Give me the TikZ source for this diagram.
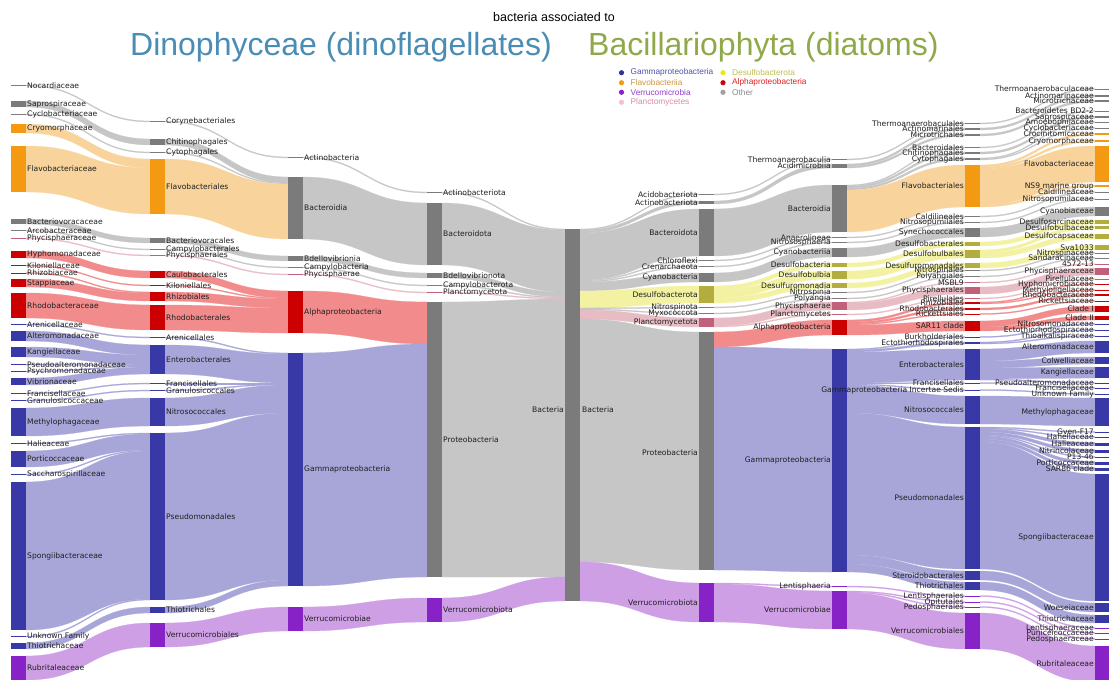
\documentclass[tikz,border=0pt]{standalone}
\usepackage{fontspec}
\setmainfont{DejaVu Sans}
\newfontfamily\headfont{Liberation Sans}
\usepackage{tikz}

\definecolor{othbar}{HTML}{7B7B7B}
\definecolor{othlnk}{HTML}{C6C6C6}
\definecolor{flvbar}{HTML}{F39A12}
\definecolor{flvlnk}{HTML}{F8D49C}
\definecolor{alpbar}{HTML}{CC0000}
\definecolor{alplnk}{HTML}{F28C8C}
\definecolor{gambar}{HTML}{3838A6}
\definecolor{gamlnk}{HTML}{A8A6D9}
\definecolor{verbar}{HTML}{8722C6}
\definecolor{verlnk}{HTML}{CF9FE6}
\definecolor{plabar}{HTML}{C0607A}
\definecolor{plalnk}{HTML}{E8BCC4}
\definecolor{desbar}{HTML}{B3AD3F}
\definecolor{deslnk}{HTML}{F2F2A2}
\definecolor{labtxt}{HTML}{1E1E1E}
\definecolor{dinoblue}{HTML}{4A8DB4}
\definecolor{diatgreen}{HTML}{8FA94A}
% legend dots and texts
\definecolor{gamdot}{HTML}{33339A}
\definecolor{gamtxt}{HTML}{5050AA}
\definecolor{flvtxt}{HTML}{CD963C}
\definecolor{vertxt}{HTML}{963CCD}
\definecolor{pladot}{HTML}{F8C0CC}
\definecolor{platxt}{HTML}{D78CA5}
\definecolor{desdot}{HTML}{E8E81E}
\definecolor{destxt}{HTML}{BEBE50}
\definecolor{alptxt}{HTML}{E11E1E}
\definecolor{othdot}{HTML}{A0A0A0}
\definecolor{othtxt}{HTML}{888888}

% band between two columns: [colour](x1:top1:bottom1)(x2:top2:bottom2)
\def\lnk[#1](#2:#3:#4)(#5:#6:#7){\filldraw[#1,line width=0.25pt] (#2,#3) .. controls ({(#2+#5)/2},#3) and ({(#2+#5)/2},#6) .. (#5,#6) -- (#5,#7) .. controls ({(#2+#5)/2},#7) and ({(#2+#5)/2},#4) .. (#2,#4) -- cycle;}
% bar with its label to the right / to the left
\def\taxl[#1](#2:#3:#4)#5{\fill[#1] (#2,#3) rectangle ({#2+15},#4); \node[tlab,anchor=west] at ({#2+16},{(#3+#4)/2}) {#5};}
\def\taxr[#1](#2:#3:#4)#5{\fill[#1] (#2,#3) rectangle ({#2+15},#4); \node[tlab,anchor=east] at ({#2-1},{(#3+#4)/2}) {#5};}

\begin{document}
\begin{tikzpicture}[x=1pt,y=-1pt,
  tlab/.style={font=\fontsize{7.6}{8}\selectfont,text=labtxt,inner sep=0pt},
  leg/.style={font=\headfont\fontsize{8.3}{9}\selectfont,inner sep=0pt,anchor=west}]
			%%%%% START %%%%%
			\useasboundingbox (0,0) rectangle (1109,680);
			
			% families -> orders (dinoflagellates)
			\lnk[othlnk](26:85:86)(150:121:122)
			\lnk[othlnk](26:101:107)(150:139:145)
			\lnk[othlnk](26:114:115)(150:152:153)
			\lnk[flvlnk](26:124:133)(150:159:168)
			\lnk[flvlnk](26:146:192)(150:168:214)
			\lnk[othlnk](26:219:224)(150:238:243)
			\lnk[othlnk](26:230:231)(150:249:250)
			\lnk[plalnk](26:238:239)(150:255:256)
			\lnk[alplnk](26:251:258)(150:271:278)
			\lnk[alplnk](26:265:266)(150:285:286)
			\lnk[alplnk](26:272.5:273.5)(150:292:293)
			\lnk[alplnk](26:279:287)(150:293:301)
			\lnk[alplnk](26:293:318)(150:305:330)
			\lnk[gamlnk](26:324:325)(150:337:338)
			\lnk[gamlnk](26:331:341)(150:345:355)
			\lnk[gamlnk](26:347:357)(150:355:365)
			\lnk[gamlnk](26:364:365)(150:365:366)
			\lnk[gamlnk](26:371:372)(150:366:367)
			\lnk[gamlnk](26:378:385)(150:367:374)
			\lnk[gamlnk](26:393:394)(150:383:384)
			\lnk[gamlnk](26:400:401)(150:390:391)
			\lnk[gamlnk](26:408:436)(150:398:426)
			\lnk[gamlnk](26:443:444)(150:433:434)
			\lnk[gamlnk](26:451:467)(150:434:450)
			\lnk[gamlnk](26:474:475)(150:450:451)
			\lnk[gamlnk](26:482:630)(150:451:599)
			\lnk[gamlnk](26:636:637)(150:599:600)
			\lnk[gamlnk](26:643:649)(150:607:613)
			\lnk[verlnk](26:656:680)(150:623:647)
			
			% orders -> classes
			\lnk[othlnk](165:121:122)(288:157:158)
			\lnk[othlnk](165:139:145)(288:177:183)
			\lnk[othlnk](165:152:153)(288:183:184)
			\lnk[flvlnk](165:159:214)(288:184:239)
			\lnk[othlnk](165:238:243)(288:256:261)
			\lnk[othlnk](165:249:250)(288:267:268)
			\lnk[plalnk](165:255:256)(288:274:275)
			\lnk[alplnk](165:271:278)(288:291:298)
			\lnk[alplnk](165:285:286)(288:298:299)
			\lnk[alplnk](165:292:301)(288:299:308)
			\lnk[alplnk](165:305:330)(288:308:333)
			\lnk[gamlnk](165:337:338)(288:353:354)
			\lnk[gamlnk](165:345:374)(288:354:383)
			\lnk[gamlnk](165:383:384)(288:383:384)
			\lnk[gamlnk](165:390:391)(288:384:385)
			\lnk[gamlnk](165:398:426)(288:385:413)
			\lnk[gamlnk](165:433:600)(288:413:580)
			\lnk[gamlnk](165:607:613)(288:580:586)
			\lnk[verlnk](165:623:647)(288:607:631)
			
			% classes -> phyla
			\lnk[othlnk](303:157:158)(427:192:193)
			\lnk[othlnk](303:177:239)(427:203:265)
			\lnk[othlnk](303:256:261)(427:273:278)
			\lnk[othlnk](303:267:268)(427:285:286)
			\lnk[plalnk](303:274:275)(427:292:293)
			\lnk[alplnk](303:291:333)(427:302:344)
			\lnk[gamlnk](303:353:586)(427:344:577)
			\lnk[verlnk](303:607:631)(427:598:622)
			
			% phyla -> Bacteria
			\lnk[othlnk](442:192:193)(565:229:230)
			\lnk[othlnk](442:203:265)(565:230:292)
			\lnk[othlnk](442:273:278)(565:292:297)
			\lnk[othlnk](442:285:286)(565:297:298)
			\lnk[plalnk](442:292:293)(565:298:299)
			\lnk[othlnk](442:302:577)(565:299:577)
			\lnk[verlnk](442:598:622)(565:577:601)
			
			% Bacteria -> phyla (diatoms)
			\lnk[othlnk](580:229:230)(699:194:195)
			\lnk[othlnk](580:230:233)(699:201:204)
			\lnk[othlnk](580:233:280)(699:209:256)
			\lnk[othlnk](580:280:281)(699:260:261)
			\lnk[othlnk](580:281:282)(699:266:267)
			\lnk[othlnk](580:282:291)(699:273:282)
			\lnk[deslnk](580:291:308)(699:286:303)
			\lnk[othlnk](580:308:309)(699:307:308)
			\lnk[othlnk](580:309:310)(699:313:314)
			\lnk[plalnk](580:310:319)(699:318:327)
			\lnk[othlnk](580:319:562)(699:332:570)
			\lnk[verlnk](580:562:601)(699:583:622)
			
			% phyla -> classes
			\lnk[othlnk](714:194:195)(832:159:160)
			\lnk[othlnk](714:201:204)(832:164:168)
			\lnk[othlnk](714:209:256)(832:185:232)
			\lnk[othlnk](714:260:261)(832:237:238)
			\lnk[othlnk](714:266:267)(832:242:243)
			\lnk[othlnk](714:273:282)(832:248:257)
			\lnk[deslnk](714:286:290)(832:263:267)
			\lnk[deslnk](714:290:298)(832:271:279)
			\lnk[deslnk](714:298:303)(832:283:288)
			\lnk[othlnk](714:307:308)(832:292:293)
			\lnk[othlnk](714:313:314)(832:298:299)
			\lnk[plalnk](714:318:326)(832:302:310)
			\lnk[plalnk](714:326:327)(832:314:315)
			\lnk[alplnk](714:332:347)(832:320:335)
			\lnk[gamlnk](714:347:570)(832:349:572)
			\lnk[verlnk](714:583:584)(832:586:587)
			\lnk[verlnk](714:584:622)(832:591:629)
			
			% classes -> orders
			\lnk[othlnk](847:159:160)(965:123:124)
			\lnk[othlnk](847:164:166)(965:128:130)
			\lnk[othlnk](847:166:168)(965:134:136)
			\lnk[othlnk](847:185:186)(965:147:148)
			\lnk[othlnk](847:186:188)(965:152:154)
			\lnk[othlnk](847:188:190)(965:158:160)
			\lnk[flvlnk](847:190:232)(965:165:207)
			\lnk[othlnk](847:237:238)(965:216:217)
			\lnk[othlnk](847:242:243)(965:222:223)
			\lnk[othlnk](847:248:257)(965:228:237)
			\lnk[deslnk](847:263:267)(965:242:246)
			\lnk[deslnk](847:271:279)(965:250:258)
			\lnk[deslnk](847:283:288)(965:263:268)
			\lnk[othlnk](847:292:293)(965:270:271)
			\lnk[othlnk](847:298:299)(965:276:277)
			\lnk[plalnk](847:302:303)(965:282:283)
			\lnk[plalnk](847:303:310)(965:287:294)
			\lnk[plalnk](847:314:315)(965:298:299)
			\lnk[alplnk](847:320:322)(965:302:304)
			\lnk[alplnk](847:322:324)(965:308:310)
			\lnk[alplnk](847:324:325)(965:313.5:314.5)
			\lnk[alplnk](847:325:335)(965:321:331)
			\lnk[gamlnk](847:349:350)(965:336.5:337.5)
			\lnk[gamlnk](847:350:352)(965:342:344)
			\lnk[gamlnk](847:352:383)(965:349:380)
			\lnk[gamlnk](847:383:384)(965:382.5:383.5)
			\lnk[gamlnk](847:384:385)(965:389.5:390.5)
			\lnk[gamlnk](847:385:413)(965:396:424)
			\lnk[gamlnk](847:413:555)(965:427:569)
			\lnk[gamlnk](847:555:564)(965:571:580)
			\lnk[gamlnk](847:564:572)(965:582:590)
			\lnk[verlnk](847:586:587)(965:595.5:596.5)
			\lnk[verlnk](847:591:592)(965:601.5:602.5)
			\lnk[verlnk](847:592:593)(965:606.5:607.5)
			\lnk[verlnk](847:593:629)(965:613:649)
			
			% orders -> families
			\lnk[othlnk](980:123:124)(1095:88.5:89.5)
			\lnk[othlnk](980:128:130)(1095:95:97)
			\lnk[othlnk](980:134:136)(1095:100:102)
			\lnk[othlnk](980:147:148)(1095:110.5:111.5)
			\lnk[othlnk](980:152:154)(1095:116:118)
			\lnk[othlnk](980:158:159)(1095:121.5:122.5)
			\lnk[othlnk](980:159:160)(1095:127.5:128.5)
			\lnk[flvlnk](980:165:167)(1095:133:135)
			\lnk[flvlnk](980:167:169)(1095:140:142)
			\lnk[flvlnk](980:169:205)(1095:146:182)
			\lnk[flvlnk](980:205:207)(1095:185:187)
			\lnk[othlnk](980:216:217)(1095:191.5:192.5)
			\lnk[othlnk](980:222:223)(1095:198.5:199.5)
			\lnk[othlnk](980:228:237)(1095:207:216)
			\lnk[deslnk](980:242:246)(1095:220:224)
			\lnk[deslnk](980:250:253)(1095:226:229)
			\lnk[deslnk](980:253:258)(1095:234:239)
			\lnk[deslnk](980:263:268)(1095:245:250)
			\lnk[othlnk](980:270:271)(1095:252.5:253.5)
			\lnk[othlnk](980:276:277)(1095:257.5:258.5)
			\lnk[plalnk](980:282:283)(1095:263.5:264.5)
			\lnk[plalnk](980:287:294)(1095:268:275)
			\lnk[plalnk](980:298:299)(1095:278.5:279.5)
			\lnk[alplnk](980:302:303)(1095:283.5:284.5)
			\lnk[alplnk](980:303:304)(1095:289.5:290.5)
			\lnk[alplnk](980:308:310)(1095:294:296)
			\lnk[alplnk](980:313.5:314.5)(1095:300.5:301.5)
			\lnk[alplnk](980:321:327)(1095:306:312)
			\lnk[alplnk](980:327:331)(1095:316:320)
			\lnk[gamlnk](980:336.5:337.5)(1095:323.5:324.5)
			\lnk[gamlnk](980:342:343)(1095:329.5:330.5)
			\lnk[gamlnk](980:343:344)(1095:335.5:336.5)
			\lnk[gamlnk](980:349:361)(1095:341:353)
			\lnk[gamlnk](980:361:368)(1095:357:364)
			\lnk[gamlnk](980:368:379)(1095:367:378)
			\lnk[gamlnk](980:379:380)(1095:382.5:383.5)
			\lnk[gamlnk](980:382.5:383.5)(1095:387.5:388.5)
			\lnk[gamlnk](980:389.5:390.5)(1095:393.5:394.5)
			\lnk[gamlnk](980:396:424)(1095:398:426)
			\lnk[gamlnk](980:427:428)(1095:431.5:432.5)
			\lnk[gamlnk](980:428:429)(1095:436.5:437.5)
			\lnk[gamlnk](980:429:432)(1095:442.5:445.5)
			\lnk[gamlnk](980:432:435)(1095:449.5:452.5)
			\lnk[gamlnk](980:435:436)(1095:456.5:457.5)
			\lnk[gamlnk](980:436:439)(1095:461.5:464.5)
			\lnk[gamlnk](980:439:442)(1095:467.5:470.5)
			\lnk[gamlnk](980:442:569)(1095:474:601)
			\lnk[gamlnk](980:571:580)(1095:603:612)
			\lnk[gamlnk](980:582:590)(1095:615:623)
			\lnk[verlnk](980:595.5:596.5)(1095:627.5:628.5)
			\lnk[verlnk](980:601.5:602.5)(1095:632.5:633.5)
			\lnk[verlnk](980:606.5:607.5)(1095:638.5:639.5)
			\lnk[verlnk](980:613:649)(1095:646:682)
			
			% families (dinoflagellates)
			\taxl[othbar](11:85:86){Nocardiaceae}
			\taxl[othbar](11:101:107){Saprospiraceae}
			\taxl[othbar](11:114:115){Cyclobacteriaceae}
			\taxl[flvbar](11:124:133){Cryomorphaceae}
			\taxl[flvbar](11:146:192){Flavobacteriaceae}
			\taxl[othbar](11:219:224){Bacteriovoracaceae}
			\taxl[othbar](11:230:231){Arcobacteraceae}
			\taxl[plabar](11:238:239){Phycisphaeraceae}
			\taxl[alpbar](11:251:258){Hyphomonadaceae}
			\taxl[alpbar](11:265:266){Kiloniellaceae}
			\taxl[alpbar](11:272.5:273.5){Rhizobiaceae}
			\taxl[alpbar](11:279:287){Stappiaceae}
			\taxl[alpbar](11:293:318){Rhodobacteraceae}
			\taxl[gambar](11:324:325){Arenicellaceae}
			\taxl[gambar](11:331:341){Alteromonadaceae}
			\taxl[gambar](11:347:357){Kangiellaceae}
			\taxl[gambar](11:364:365){Pseudoalteromonadaceae}
			\taxl[gambar](11:371:372){Psychromonadaceae}
			\taxl[gambar](11:378:385){Vibrionaceae}
			\taxl[gambar](11:393:394){Francisellaceae}
			\taxl[gambar](11:400:401){Granulosicoccaceae}
			\taxl[gambar](11:408:436){Methylophagaceae}
			\taxl[gambar](11:443:444){Halieaceae}
			\taxl[gambar](11:451:467){Porticoccaceae}
			\taxl[gambar](11:474:475){Saccharospirillaceae}
			\taxl[gambar](11:482:630){Spongiibacteraceae}
			\taxl[gambar](11:636:637){Unknown Family}
			\taxl[gambar](11:643:649){Thiotrichaceae}
			\taxl[verbar](11:656:680){Rubritaleaceae}
			
			% orders
			\taxl[othbar](150:121:122){Corynebacteriales}
			\taxl[othbar](150:139:145){Chitinophagales}
			\taxl[othbar](150:152:153){Cytophagales}
			\taxl[flvbar](150:159:214){Flavobacteriales}
			\taxl[othbar](150:238:243){Bacteriovoracales}
			\taxl[othbar](150:249:250){Campylobacterales}
			\taxl[plabar](150:255:256){Phycisphaerales}
			\taxl[alpbar](150:271:278){Caulobacterales}
			\taxl[alpbar](150:285:286){Kiloniellales}
			\taxl[alpbar](150:292:301){Rhizobiales}
			\taxl[alpbar](150:305:330){Rhodobacterales}
			\taxl[gambar](150:337:338){Arenicellales}
			\taxl[gambar](150:345:374){Enterobacterales}
			\taxl[gambar](150:383:384){Francisellales}
			\taxl[gambar](150:390:391){Granulosicoccales}
			\taxl[gambar](150:398:426){Nitrosococcales}
			\taxl[gambar](150:433:600){Pseudomonadales}
			\taxl[gambar](150:607:613){Thiotrichales}
			\taxl[verbar](150:623:647){Verrucomicrobiales}
			
			% classes
			\taxl[othbar](288:157:158){Actinobacteria}
			\taxl[othbar](288:177:239){Bacteroidia}
			\taxl[othbar](288:256:261){Bdellovibrionia}
			\taxl[othbar](288:267:268){Campylobacteria}
			\taxl[plabar](288:274:275){Phycisphaerae}
			\taxl[alpbar](288:291:333){Alphaproteobacteria}
			\taxl[gambar](288:353:586){Gammaproteobacteria}
			\taxl[verbar](288:607:631){Verrucomicrobiae}
			
			% phyla
			\taxl[othbar](427:192:193){Actinobacteriota}
			\taxl[othbar](427:203:265){Bacteroidota}
			\taxl[othbar](427:273:278){Bdellovibrionota}
			\taxl[othbar](427:285:286){Campylobacterota}
			\taxl[plabar](427:292:293){Planctomycetota}
			\taxl[othbar](427:302:577){Proteobacteria}
			\taxl[verbar](427:598:622){Verrucomicrobiota}
			
			% Bacteria in the middle
			\fill[othbar] (565,229) rectangle (580,601);
			\node[tlab,anchor=east] (bacL) at (564,410) {Bacteria};
			\node[tlab,anchor=west] (bacR) at (582,410) {Bacteria};
			
			% phyla (diatoms)
			\taxr[othbar](699:194:195){Acidobacteriota}
			\taxr[othbar](699:201:204){Actinobacteriota}
			\taxr[othbar](699:209:256){Bacteroidota}
			\taxr[othbar](699:260:261){Chloroflexi}
			\taxr[othbar](699:266:267){Crenarchaeota}
			\taxr[othbar](699:273:282){Cyanobacteria}
			\taxr[desbar](699:286:303){Desulfobacterota}
			\taxr[othbar](699:307:308){Nitrospinota}
			\taxr[othbar](699:313:314){Myxococcota}
			\taxr[plabar](699:318:327){Planctomycetota}
			\fill[othbar] (699,332) rectangle (714,570);
			\node[tlab,anchor=east] (proR) at (698,453) {Proteobacteria};
			\taxr[verbar](699:583:622){Verrucomicrobiota}
			
			% classes
			\taxr[othbar](832:159:160){Thermoanaerobaculia}
			\taxr[othbar](832:164:168){Acidimicrobiia}
			\taxr[othbar](832:185:232){Bacteroidia}
			\taxr[othbar](832:237:238){Anaerolineae}
			\taxr[othbar](832:242:243){Nitrososphaeria}
			\taxr[othbar](832:248:257){Cyanobacteriia}
			\taxr[desbar](832:263:267){Desulfobacteria}
			\taxr[desbar](832:271:279){Desulfobulbia}
			\taxr[desbar](832:283:288){Desulfuromonadia}
			\taxr[othbar](832:292:293){Nitrospinia}
			\taxr[othbar](832:298:299){Polyangia}
			\taxr[plabar](832:302:310){Phycisphaerae}
			\taxr[plabar](832:314:315){Planctomycetes}
			\taxr[alpbar](832:320:335){Alphaproteobacteria}
			\taxr[gambar](832:349:572){Gammaproteobacteria}
			\taxr[verbar](832:586:587){Lentisphaeria}
			\taxr[verbar](832:591:629){Verrucomicrobiae}
			
			% orders
			\taxr[othbar](965:123:124){Thermoanaerobaculales}
			\taxr[othbar](965:128:130){Actinomarinales}
			\taxr[othbar](965:134:136){Microtrichales}
			\taxr[othbar](965:147:148){Bacteroidales}
			\taxr[othbar](965:152:154){Chitinophagales}
			\taxr[othbar](965:158:160){Cytophagales}
			\taxr[flvbar](965:165:207){Flavobacteriales}
			\taxr[othbar](965:216:217){Caldilineales}
			\taxr[othbar](965:222:223){Nitrosopumilales}
			\taxr[othbar](965:228:237){Synechococcales}
			\taxr[desbar](965:242:246){Desulfobacterales}
			\taxr[desbar](965:250:258){Desulfobulbales}
			\taxr[desbar](965:263:268){Desulfuromonadales}
			\taxr[othbar](965:270:271){Nitrospinales}
			\taxr[othbar](965:276:277){Polyangiales}
			\taxr[plabar](965:282:283){MSBL9}
			\taxr[plabar](965:287:294){Phycisphaerales}
			\taxr[plabar](965:298:299){Pirellulales}
			\taxr[alpbar](965:302:304){Rhizobiales}
			\taxr[alpbar](965:308:310){Rhodobacterales}
			\taxr[alpbar](965:313.5:314.5){Rickettsiales}
			\taxr[alpbar](965:321:331){SAR11 clade}
			\taxr[gambar](965:336.5:337.5){Burkholderiales}
			\taxr[gambar](965:342:344){Ectothiorhodospirales}
			\taxr[gambar](965:349:380){Enterobacterales}
			\taxr[gambar](965:382.5:383.5){Francisellales}
			\taxr[gambar](965:389.5:390.5){Gammaproteobacteria Incertae Sedis}
			\taxr[gambar](965:396:424){Nitrosococcales}
			\taxr[gambar](965:427:569){Pseudomonadales}
			\taxr[gambar](965:571:580){Steroidobacterales}
			\taxr[gambar](965:582:590){Thiotrichales}
			\taxr[verbar](965:595.5:596.5){Lentisphaerales}
			\taxr[verbar](965:601.5:602.5){Opitutales}
			\taxr[verbar](965:606.5:607.5){Pedosphaerales}
			\taxr[verbar](965:613:649){Verrucomicrobiales}
			
			% families
			\taxr[othbar](1095:88.5:89.5){Thermoanaerobaculaceae}
			\taxr[othbar](1095:95:97){Actinomarinaceae}
			\taxr[othbar](1095:100:102){Microtrichaceae}
			\taxr[othbar](1095:110.5:111.5){Bacteroidetes BD2-2}
			\taxr[othbar](1095:116:118){Saprospiraceae}
			\taxr[othbar](1095:121.5:122.5){Amoebophilaceae}
			\taxr[othbar](1095:127.5:128.5){Cyclobacteriaceae}
			\taxr[flvbar](1095:133:135){Crocinitomicaceae}
			\taxr[flvbar](1095:140:142){Cryomorphaceae}
			\taxr[flvbar](1095:146:182){Flavobacteriaceae}
			\taxr[flvbar](1095:185:187){NS9 marine group}
			\taxr[othbar](1095:191.5:192.5){Caldilineaceae}
			\taxr[othbar](1095:198.5:199.5){Nitrosopumilaceae}
			\taxr[othbar](1095:207:216){Cyanobiaceae}
			\taxr[desbar](1095:220:224){Desulfosarcinaceae}
			\taxr[desbar](1095:226:229){Desulfobulbaceae}
			\taxr[desbar](1095:234:239){Desulfocapsaceae}
			\taxr[desbar](1095:245:250){Sva1033}
			\taxr[othbar](1095:252.5:253.5){Nitrospinaceae}
			\taxr[othbar](1095:257.5:258.5){Sandaracinaceae}
			\taxr[plabar](1095:263.5:264.5){4572-13}
			\taxr[plabar](1095:268:275){Phycisphaeraceae}
			\taxr[plabar](1095:278.5:279.5){Pirellulaceae}
			\taxr[alpbar](1095:283.5:284.5){Hyphomicrobiaceae}
			\taxr[alpbar](1095:289.5:290.5){Methyloligellaceae}
			\taxr[alpbar](1095:294:296){Rhodobacteraceae}
			\taxr[alpbar](1095:300.5:301.5){Rickettsiaceae}
			\taxr[alpbar](1095:306:312){Clade I}
			\taxr[alpbar](1095:316:320){Clade II}
			\taxr[gambar](1095:323.5:324.5){Nitrosomonadaceae}
			\taxr[gambar](1095:329.5:330.5){Ectothiorhodospiraceae}
			\taxr[gambar](1095:335.5:336.5){Thioalkalispiraceae}
			\taxr[gambar](1095:341:353){Alteromonadaceae}
			\taxr[gambar](1095:357:364){Colwelliaceae}
			\taxr[gambar](1095:367:378){Kangiellaceae}
			\taxr[gambar](1095:382.5:383.5){Pseudoalteromonadaceae}
			\taxr[gambar](1095:387.5:388.5){Francisellaceae}
			\taxr[gambar](1095:393.5:394.5){Unknown Family}
			\taxr[gambar](1095:398:426){Methylophagaceae}
			\taxr[gambar](1095:431.5:432.5){Gven-F17}
			\taxr[gambar](1095:436.5:437.5){Hahellaceae}
			\taxr[gambar](1095:442.5:445.5){Halieaceae}
			\taxr[gambar](1095:449.5:452.5){Nitrincolaceae}
			\taxr[gambar](1095:456.5:457.5){P13-46}
			\taxr[gambar](1095:461.5:464.5){Porticoccaceae}
			\taxr[gambar](1095:467.5:470.5){SAR86 clade}
			\taxr[gambar](1095:474:601){Spongiibacteraceae}
			\taxr[gambar](1095:603:612){Woeseiaceae}
			\taxr[gambar](1095:615:623){Thiotrichaceae}
			\taxr[verbar](1095:627.5:628.5){Lentisphaeraceae}
			\taxr[verbar](1095:632.5:633.5){Puniceicoccaceae}
			\taxr[verbar](1095:638.5:639.5){Pedosphaeraceae}
			\taxr[verbar](1095:646:682){Rubritaleaceae}
			
			% legend
			\fill[gamdot] (621.5,72.7) circle (2.6);
			\node[leg,text=gamtxt] (lg1) at (630.5,72.7) {Gammaproteobacteria};
			\fill[flvbar] (621.5,82.7) circle (2.6);
			\node[leg,text=flvtxt] (lg2) at (630.5,82.7) {Flavobacteriia};
			\fill[verbar] (621.5,92.3) circle (2.6);
			\node[leg,text=vertxt] (lg3) at (630.5,92.3) {Verrucomicrobia};
			\fill[pladot] (621.5,102.3) circle (2.6);
			\node[leg,text=platxt] (lg4) at (630.5,102.3) {Planctomycetes};
			\fill[desdot] (723,72.7) circle (2.6);
			\node[leg,text=destxt] (lg5) at (732,72.7) {Desulfobacterota};
			\fill[alpbar] (723,82.7) circle (2.6);
			\node[leg,text=alptxt] (lg6) at (732,82.7) {Alphaproteobacteria};
			\fill[othdot] (723,92.3) circle (2.6);
			\node[leg,text=othtxt] (lg7) at (732,92.3) {Other};
			
			% titles
			\node[font=\headfont\fontsize{12.5}{14}\selectfont,anchor=base,inner sep=0pt] (sub) at (554,21) {bacteria associated to};
			\node[font=\headfont\fontsize{32}{36}\selectfont,text=dinoblue,anchor=base west,inner sep=0pt] (dino) at (130,55) {Dinophyceae (dinoflagellates)};
			\node[font=\headfont\fontsize{32}{36}\selectfont,text=diatgreen,anchor=base west,inner sep=0pt] (diat) at (588,55) {Bacillariophyta (diatoms)};
			%%%%% END %%%%%
\end{tikzpicture}
\end{document}
